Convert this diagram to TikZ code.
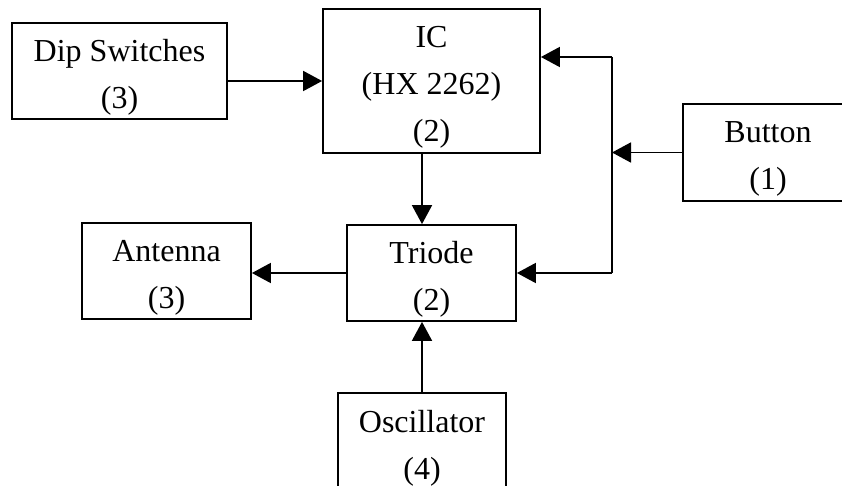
\documentclass[tikz,border=0pt]{standalone}
\usepackage{fontspec}
\setmainfont{Liberation Serif}
\usetikzlibrary{arrows.meta}

% extra room above the first line of a box
\newcommand{\lift}{\rule{0pt}{34pt}}

\begin{document}
\begin{tikzpicture}[x=1pt,y=-1pt,
    block/.style={draw,line width=1.8pt,fill=white,align=center,inner sep=0pt,
                  font=\fontsize{32}{47}\selectfont},
    link/.style={line width=1.8pt,-{Triangle[length=19pt,width=20pt]}}]

    % page
    \fill[white] (0,0) rectangle (842,486);
    \useasboundingbox (0,0) rectangle (842,486);

    % draw boxes
    \node[block,minimum width=215pt,minimum height=96pt] (dip) at (119.5,71) {\lift Dip Switches\\(3)};
    \node[block,minimum width=217pt,minimum height=144pt] (ic) at (431.5,81) {\lift IC\\(HX 2262)\\(2)};
    \node[block,minimum width=170pt,minimum height=97pt] (btn) at (768,152.5) {\lift Button\\(1)};
    \node[block,minimum width=169pt,minimum height=96pt] (triode) at (431.5,273) {\lift Triode\\(2)};
    \node[block,minimum width=169pt,minimum height=96pt] (ant) at (166.5,271) {\lift Antenna\\(3)};
    \node[block,minimum width=168pt,minimum height=98pt] (osc) at (422,442) {\lift Oscillator\\(4)};

    % junction of the button line
    \coordinate (jtop) at (612,57);
    \coordinate (jbot) at (612,273);

    % draw arrows
    \draw[link] (dip.east |- ic) -- (ic.west);
    \draw[link] (btn.west) -- (btn.west -| jtop);
    \draw[line width=1.8pt] (jtop) -- (jbot);
    \draw[link] (jtop) -- (jtop -| ic.east);
    \draw[link] (jbot) -- (triode.east);
    \draw[link] (ic.south -| osc.north) -- (triode.north -| osc.north);
    \draw[link] (osc.north) -- (osc.north |- triode.south);
    \draw[link] (triode.west) -- (triode.west -| ant.east);

\end{tikzpicture}
\end{document}
